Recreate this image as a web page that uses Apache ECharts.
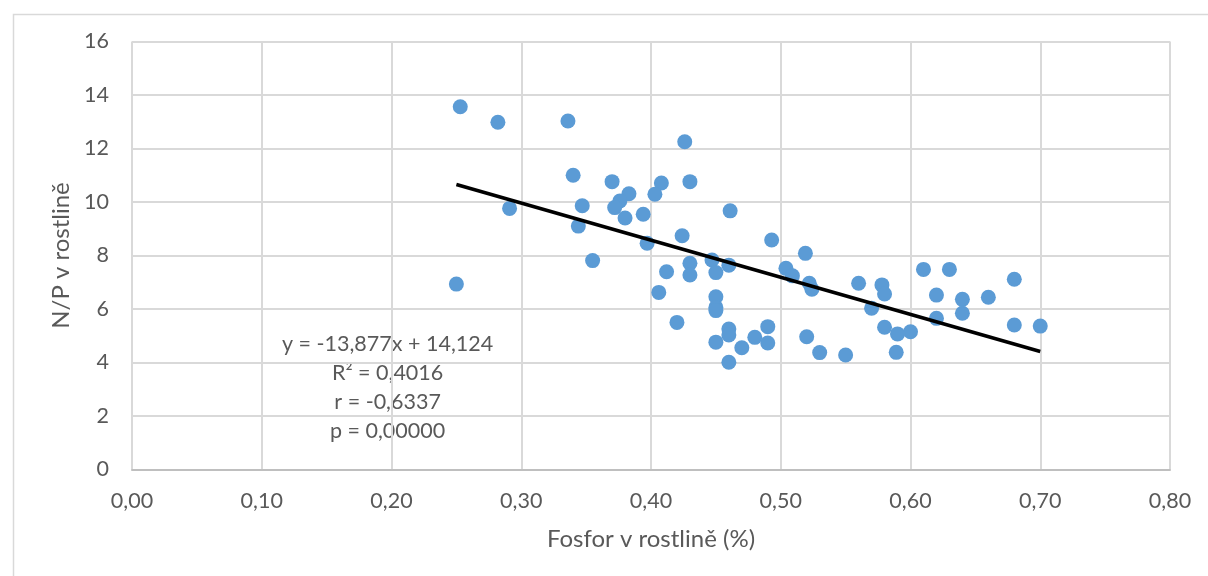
<!DOCTYPE html>
<html>
<head>
<meta charset="utf-8">
<script src="https://cdn.jsdelivr.net/npm/echarts@6/dist/echarts.min.js"></script>
<style>
html,body{margin:0;padding:0;background:#fff;}
#chart{width:1208px;height:576px;}
</style>
</head>
<body>
<div id="chart"></div>
<script>
// Data
const phosphorus = [0.253,0.282,0.336,0.426,0.340,0.370,0.408,0.430,0.383,0.376,0.372,0.403,0.291,0.347,0.394,0.380,0.461,0.344,0.424,0.397,0.355,0.412,0.430,0.430,0.447,0.460,0.450,0.250,0.406,0.420,0.450,0.450,0.450,0.450,0.460,0.460,0.460,0.470,0.480,0.490,0.490,0.493,0.504,0.509,0.519,0.522,0.524,0.520,0.530,0.550,0.560,0.578,0.580,0.570,0.580,0.590,0.589,0.600,0.610,0.630,0.620,0.640,0.640,0.620,0.660,0.680,0.680,0.700];
const npRatio = [13.56,12.98,13.03,12.25,11.00,10.76,10.71,10.76,10.31,10.04,9.79,10.29,9.76,9.86,9.54,9.40,9.67,9.10,8.74,8.46,7.81,7.39,7.71,7.27,7.83,7.64,7.36,6.93,6.62,5.50,6.46,6.06,5.94,4.76,5.25,5.03,4.01,4.55,4.94,5.34,4.73,8.58,7.52,7.24,8.08,6.96,6.74,4.96,4.37,4.28,6.96,6.90,6.56,6.03,5.32,5.07,4.38,5.15,7.48,7.48,6.52,6.36,5.84,5.65,6.44,7.11,5.40,5.36];
const trendSlope = -13.877;
const trendIntercept = 14.124;
const trendRange = [0.25, 0.70];
const statLabels = ['y = -13,877x + 14,124', 'R² = 0,4016', 'r = -0,6337', 'p = 0,00000'];
const xTitle = 'Fosfor v rostlině (%)';
const yTitle = 'N/P v rostlině';

const points = phosphorus.map((x, i) => [x, npRatio[i]]);
const trend = trendRange.map(x => [x, trendSlope * x + trendIntercept]);

const FONT = 'Lato';
const TXT = '#595959';
const chart = echarts.init(document.getElementById('chart'), null, {renderer: 'canvas'});
chart.setOption({
  animation: false,
  backgroundColor: '#ffffff',
  textStyle: {fontFamily: FONT},
  grid: {left: 132, right: 38, top: 41.5, bottom: 106.5, containLabel: false},
  xAxis: {
    type: 'value', min: 0, max: 0.8, interval: 0.1,
    name: xTitle, nameLocation: 'middle', nameGap: 58,
    nameTextStyle: {fontFamily: FONT, fontSize: 24, color: TXT},
    axisLine: {show: true, lineStyle: {color: '#bfbfbf', width: 2}},
    axisTick: {show: false},
    axisLabel: {fontFamily: FONT, fontSize: 21.5, color: TXT, margin: 21,
      formatter: v => v.toFixed(2).replace('.', ',')},
    splitLine: {show: true, lineStyle: {color: '#d9d9d9', width: 2}}
  },
  yAxis: {
    type: 'value', min: 0, max: 16, interval: 2,
    name: yTitle, nameLocation: 'middle', nameGap: 57, nameRotate: 90,
    nameTextStyle: {fontFamily: FONT, fontSize: 24, color: TXT},
    axisLine: {show: false},
    axisTick: {show: false},
    axisLabel: {fontFamily: FONT, fontSize: 21.5, color: TXT, margin: 23},
    splitLine: {show: true, lineStyle: {color: '#d9d9d9', width: 2}}
  },
  series: [
    {
      type: 'scatter', data: points, symbol: 'circle', symbolSize: 15,
      itemStyle: {color: '#5b9bd5', opacity: 1}, z: 3
    },
    {
      type: 'line', data: trend, symbol: 'none', z: 4,
      lineStyle: {color: '#000000', width: 3.5}
    }
  ],
  graphic: [
    {type: 'rect', left: 11, top: 12, z: -10, silent: true,
      shape: {width: 1400, height: 800},
      style: {fill: 'none', stroke: '#d9d9d9', lineWidth: 1.5}},
    {type: 'group', left: 282, top: 333, children: statLabels.map((t, i) => ({
      type: 'text', x: 100, y: i * 29, style: {text: t, fill: TXT, font: '21.5px ' + FONT, textAlign: 'center'}
    }))}
  ]
});
</script>
</body>
</html>
